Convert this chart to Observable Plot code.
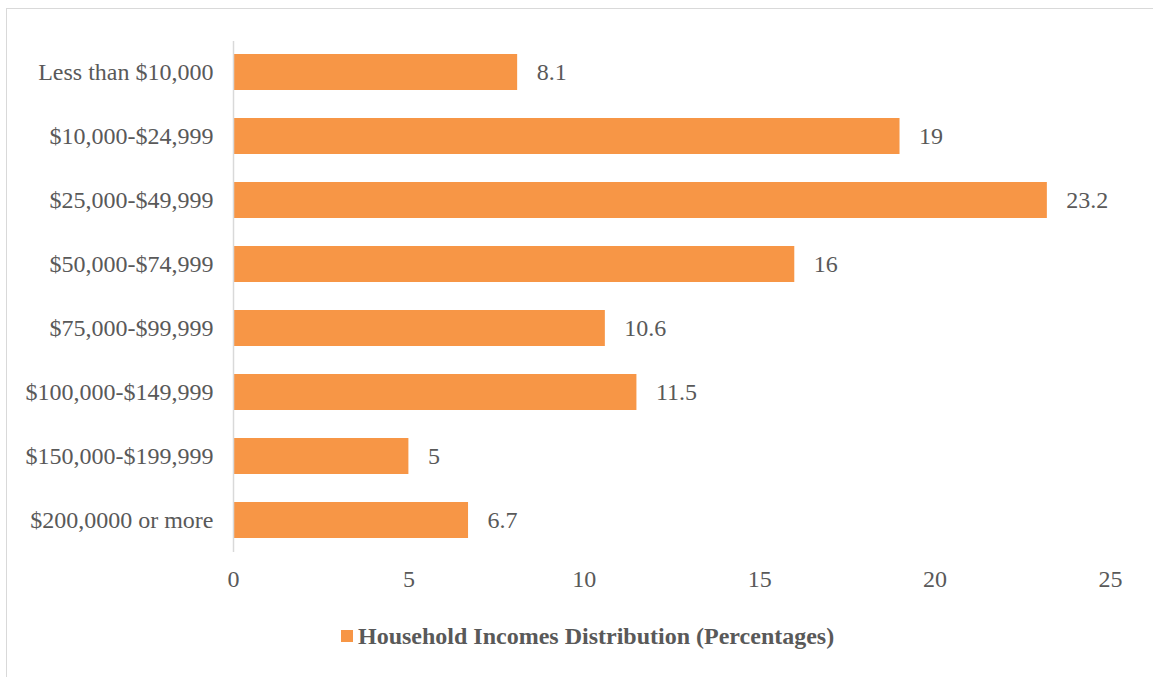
<!DOCTYPE html>
<html>
<head>
<meta charset="utf-8">
<script src="https://cdn.jsdelivr.net/npm/d3@7"></script>
<script src="https://cdn.jsdelivr.net/npm/@observablehq/plot@0.6"></script>
<style>
  html, body { margin: 0; padding: 0; background: #fff; overflow: hidden; width: 1153px; height: 677px; }
  #frame { position: absolute; left: 6px; top: 8px; width: 1300px; height: 800px; border: 1px solid #d9d9d9; box-sizing: border-box; }
  #chart { position: absolute; left: 0; top: 0; }
  #legend { position: absolute; left: 341px; top: 622px; display: flex; align-items: center; font-family: "Liberation Serif", serif; font-weight: bold; font-size: 24px; line-height: 28px; color: #595959; white-space: nowrap; }
  #legend .sw { width: 12px; height: 12px; background: #F79646; margin-right: 5px; }
</style>
</head>
<body>
<div id="frame"></div>
<div id="chart"></div>
<div id="legend"><span class="sw"></span><span>Household Incomes Distribution (Percentages)</span></div>
<script>
const categories = [
  "Less than $10,000",
  "$10,000-$24,999",
  "$25,000-$49,999",
  "$50,000-$74,999",
  "$75,000-$99,999",
  "$100,000-$149,999",
  "$150,000-$199,999",
  "$200,0000 or more"
];
const values = [8.1, 19, 23.2, 16, 10.6, 11.5, 5, 6.7];
const xTicks = [0, 5, 10, 15, 20, 25];
const seriesName = "Household Incomes Distribution (Percentages)";

const data = categories.map((c, i) => ({category: c, value: values[i]}));

const chart = Plot.plot({
  width: 1153,
  height: 600,
  marginLeft: 233,
  marginRight: 43,
  marginTop: 41,
  marginBottom: 48,
  style: {fontFamily: "'Liberation Serif', serif", fontSize: "24px", color: "#595959", background: "transparent"},
  x: {domain: [0, 25], ticks: xTicks, tickSize: 0, tickPadding: 17, label: null},
  y: {domain: categories, paddingInner: 0.433, paddingOuter: 0.2, tickSize: 0, tickPadding: 20, label: null},
  marks: [
    Plot.barX(data, {x: "value", y: "category", fill: "#F79646"}),
    Plot.ruleX([0], {stroke: "#d9d9d9", strokeWidth: 1.5}),
    Plot.text(data, {x: "value", y: "category", text: d => String(d.value), textAnchor: "start", dx: 19, fill: "#595959", fontSize: 24})
  ]
});
document.getElementById("chart").appendChild(chart);
</script>
</body>
</html>
